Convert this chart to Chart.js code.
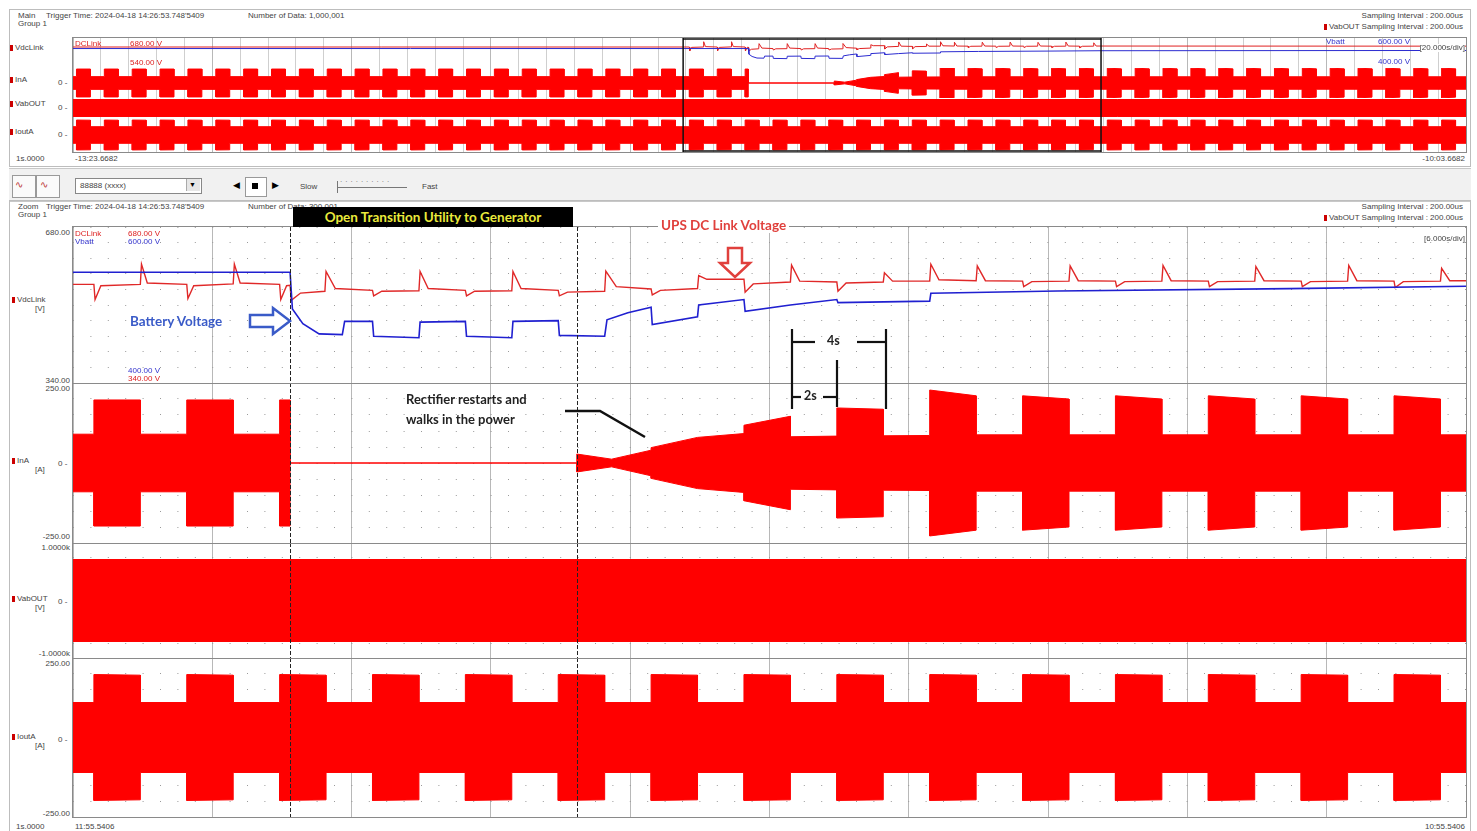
<!DOCTYPE html>
<html>
<head>
<meta charset="utf-8">
<script src="https://cdn.jsdelivr.net/npm/chart.js@4.4.1/dist/chart.umd.min.js"></script>
<style>
  body { margin: 0; background: #fff; width: 1477px; height: 831px; position: relative; overflow: hidden;
         font-family: "Liberation Sans", Arial, sans-serif; }
  canvas { position: absolute; }
  .t { position: absolute; font-size: 8px; color: #444; white-space: nowrap; line-height: 1; }
  .r { text-align: right; }
  .sq { display: inline-block; width: 3px; height: 6px; background: #c00; margin-right: 2px; vertical-align: -1px; }
  .frame { position: absolute; border: 1px solid #bdbdbd; box-sizing: border-box; }
  .box { position: absolute; border: 1px solid #8a8a8a; box-sizing: border-box; }
  .hl { position: absolute; height: 1px; background: #8a8a8a; }
  .note { position: absolute; font-family: Lato, "Open Sans", sans-serif; font-weight: bold; white-space: nowrap; line-height: 1; }
</style>
</head>
<body>

<!-- window frames -->
<div class="frame" style="left:9px;top:9px;width:1462px;height:158px"></div>
<div style="position:absolute;left:9px;top:168px;width:1462px;height:32px;background:#f1f1f1;border-top:1px solid #c8c8c8;border-bottom:1px solid #c8c8c8"></div>
<div class="frame" style="left:9px;top:200px;width:1462px;height:640px"></div>

<!-- overview header -->
<div class="t" style="left:18px;top:12px">Main<br>Group 1</div>
<div class="t" style="left:46px;top:12px">Trigger Time: 2024-04-18 14:26:53.748'5409</div>
<div class="t" style="left:248px;top:12px">Number of Data: 1,000,001</div>
<div class="t r" style="right:14px;top:12px">Sampling Interval : 200.00us</div>
<div class="t r" style="right:14px;top:23px"><span class="sq"></span>VabOUT Sampling Interval : 200.00us</div>

<div class="t" style="left:10px;top:44px"><span class="sq"></span>VdcLink</div>
<div class="t" style="left:10px;top:76px"><span class="sq"></span>InA</div>
<div class="t" style="left:10px;top:100px"><span class="sq"></span>VabOUT</div>
<div class="t" style="left:10px;top:128px"><span class="sq"></span>IoutA</div>
<div class="t" style="left:58px;top:79px">0 -</div>
<div class="t" style="left:58px;top:104px">0 -</div>
<div class="t" style="left:58px;top:131px">0 -</div>
<div class="t" style="left:16px;top:155px">1s.0000</div>
<div class="t" style="left:75px;top:155px">-13:23.6682</div>
<div class="t r" style="right:12px;top:155px">-10:03.6682</div>

<!-- toolbar -->
<div style="position:absolute;left:12px;top:175px;width:22px;height:21px;border:1px solid #999;background:#fafafa"></div>
<div style="position:absolute;left:36px;top:175px;width:22px;height:21px;border:1px solid #999;background:#fafafa"></div>
<div class="t" style="left:15px;top:180px;color:#b33;font-size:10px">&#8767;</div>
<div class="t" style="left:40px;top:180px;color:#b33;font-size:10px">&#8767;</div>
<div style="position:absolute;left:75px;top:178px;width:125px;height:14px;border:1px solid #888;background:#fff"></div>
<div class="t" style="left:80px;top:182px">88888 (xxxx)</div>
<div style="position:absolute;left:186px;top:179px;width:13px;height:12px;background:#e6e6e6;border-left:1px solid #aaa"></div>
<div class="t" style="left:189px;top:181px;font-size:7px;color:#000">&#9660;</div>
<div class="t" style="left:233px;top:181px;font-size:9px;color:#000">&#9664;</div>
<div style="position:absolute;left:245px;top:177px;width:20px;height:18px;border:1px solid #999;background:#fff"></div>
<div style="position:absolute;left:252px;top:183px;width:6px;height:6px;background:#000"></div>
<div class="t" style="left:272px;top:181px;font-size:9px;color:#000">&#9654;</div>
<div class="t" style="left:300px;top:183px">Slow</div>
<div style="position:absolute;left:337px;top:187px;width:70px;height:1px;background:#777"></div>
<div style="position:absolute;left:337px;top:181px;width:1px;height:12px;background:#777"></div>
<div class="t" style="left:340px;top:176px;letter-spacing:3px;color:#777">..........</div>
<div class="t" style="left:422px;top:183px">Fast</div>

<!-- zoom header -->
<div class="t" style="left:18px;top:203px">Zoom<br>Group 1</div>
<div class="t" style="left:46px;top:203px">Trigger Time: 2024-04-18 14:26:53.748'5409</div>
<div class="t" style="left:248px;top:203px">Number of Data: 300,001</div>
<div class="t r" style="right:14px;top:203px">Sampling Interval : 200.00us</div>
<div class="t r" style="right:14px;top:214px"><span class="sq"></span>VabOUT Sampling Interval : 200.00us</div>

<!-- zoom channel labels and scale ends -->
<div class="t" style="left:12px;top:296px"><span class="sq"></span>VdcLink</div>
<div class="t" style="left:35px;top:305px">[V]</div>
<div class="t" style="left:12px;top:457px"><span class="sq"></span>InA</div>
<div class="t" style="left:35px;top:466px">[A]</div>
<div class="t" style="left:12px;top:595px"><span class="sq"></span>VabOUT</div>
<div class="t" style="left:35px;top:604px">[V]</div>
<div class="t" style="left:12px;top:733px"><span class="sq"></span>IoutA</div>
<div class="t" style="left:35px;top:742px">[A]</div>
<div class="t r" style="right:1407px;top:229px">680.00</div>
<div class="t r" style="right:1407px;top:377px">340.00</div>
<div class="t r" style="right:1407px;top:385px">250.00</div>
<div class="t" style="left:58px;top:460px">0 -</div>
<div class="t r" style="right:1407px;top:533px">-250.00</div>
<div class="t r" style="right:1407px;top:544px">1.0000k</div>
<div class="t" style="left:58px;top:598px">0 -</div>
<div class="t r" style="right:1407px;top:650px">-1.0000k</div>
<div class="t r" style="right:1407px;top:660px">250.00</div>
<div class="t" style="left:58px;top:736px">0 -</div>
<div class="t r" style="right:1407px;top:810px">-250.00</div>
<div class="t" style="left:16px;top:823px">1s.0000</div>
<div class="t" style="left:75px;top:823px">11:55.5406</div>
<div class="t r" style="right:12px;top:823px">10:55.5406</div>

<!-- overview charts -->
<canvas id="ovDc" width="1393" height="30" style="left:73px;top:38px"></canvas>
<canvas id="ovIna" width="1393" height="30" style="left:73px;top:68px"></canvas>
<canvas id="ovVab" width="1393" height="20" style="left:73px;top:98px"></canvas>
<canvas id="ovIout" width="1393" height="34" style="left:73px;top:118px"></canvas>
<div class="box" style="left:72px;top:37px;width:1395px;height:116px"></div>
<div class="t" style="left:75px;top:40px;color:#d22">DCLink</div>
<div class="t" style="left:130px;top:40px;color:#d22">680.00 V</div>
<div class="t" style="left:130px;top:59px;color:#d22">540.00 V</div>
<div class="t" style="left:1326px;top:38px;color:#33c">Vbatt</div>
<div class="t" style="left:1378px;top:38px;color:#33c">600.00 V</div>
<div class="t" style="left:1378px;top:58px;color:#33c">400.00 V</div>
<div class="t r" style="right:12px;top:44px;background:#fff">[20.000s/div]</div>

<!-- zoom charts -->
<canvas id="zDc" width="1393" height="156" style="left:73px;top:227px"></canvas>
<canvas id="zIna" width="1393" height="160" style="left:73px;top:383px"></canvas>
<canvas id="zVab" width="1393" height="115" style="left:73px;top:543px"></canvas>
<canvas id="zIout" width="1393" height="159" style="left:73px;top:658px"></canvas>
<div class="box" style="left:72px;top:226px;width:1395px;height:592px"></div>
<div class="hl" style="left:72px;top:383px;width:1395px"></div>
<div class="hl" style="left:72px;top:543px;width:1395px"></div>
<div class="hl" style="left:72px;top:658px;width:1395px"></div>
<div class="t" style="left:75px;top:230px;color:#d22">DCLink</div>
<div class="t" style="left:75px;top:238px;color:#33c">Vbatt</div>
<div class="t" style="left:128px;top:230px;color:#d22">680.00 V</div>
<div class="t" style="left:128px;top:238px;color:#33c">600.00 V</div>
<div class="t" style="left:128px;top:367px;color:#33c">400.00 V</div>
<div class="t" style="left:128px;top:375px;color:#d22">340.00 V</div>
<div class="t r" style="right:12px;top:235px">[6.000s/div]</div>

<!-- annotations -->
<div class="note" style="left:293px;top:207px;width:280px;height:20px;background:#000;color:#eaea3c;font-size:13.5px;line-height:20px;text-align:center">Open Transition Utility to Generator</div>
<div class="note" style="left:658px;top:219px;padding:0 3px;background:#fff;color:#e0403c;font-size:13.5px">UPS DC Link Voltage</div>
<div class="note" style="left:130px;top:315px;color:#3a5bc8;font-size:13.5px">Battery Voltage</div>
<div class="note" style="left:406px;top:389px;color:#222;font-size:13px;line-height:20px">Rectifier restarts and<br>walks in the power</div>
<div class="note" style="left:827px;top:335px;color:#222;font-size:12.5px">4s</div>
<div class="note" style="left:804px;top:390px;color:#222;font-size:12.5px">2s</div>
<svg style="position:absolute;left:0;top:0" width="1477" height="831">
  <path d="M728,248 H742 V263 H750 L735,277 L720,263 H728 Z" fill="#fff" stroke="#e0403c" stroke-width="2.5" stroke-linejoin="miter"/>
  <path d="M250,315 H273 V308 L290,321 L273,334 V327 H250 Z" fill="#fff" stroke="#3a5bc8" stroke-width="2.5"/>
  <polyline points="565,411 600,411 645,437" fill="none" stroke="#111" stroke-width="2.5"/>
  <g stroke="#111" stroke-width="2.2" fill="none">
    <line x1="792" y1="329" x2="792" y2="409"/>
    <line x1="886" y1="329" x2="886" y2="409"/>
    <line x1="792" y1="342" x2="815" y2="342"/>
    <line x1="857" y1="342" x2="886" y2="342"/>
    <line x1="837" y1="360" x2="837" y2="407"/>
    <line x1="792" y1="397" x2="801" y2="397"/>
    <line x1="823" y1="397" x2="837" y2="397"/>
  </g>
</svg>

<script>
// time [s] from the start of the recording; the overview spans 0-200 s
const overviewRange = [0, 200];
const zoomRange = [87.6, 147.6];
const cursorTimes = [96.95, 109.3];

// start of every 2 s load pulse on the UPS output
const pulseStarts = [0.5, 4.5, 8.5, 12.5, 16.5, 20.5, 24.5, 28.5, 32.5, 36.5,
  40.5, 44.5, 48.5, 52.5, 56.5, 60.5, 64.5, 68.5, 72.5, 76.5,
  80.5, 84.5, 88.5, 92.5, 96.5, 100.5, 104.5, 108.5, 112.5, 116.5,
  120.5, 124.5, 128.5, 132.5, 136.5, 140.5, 144.5, 148.5, 152.5, 156.5,
  160.5, 164.5, 168.5, 172.5, 176.5, 180.5, 184.5, 188.5, 192.5, 196.5];
const pulseLength = 2;

// peak current [A]: at pulse start, at pulse end, between pulses
const inaBefore = [197, 197, 90];
const inaAfter = [210, 200, 88];
const ioutLevels = [198, 196, 110];
const vabPeak = 713; // V

// InA peak [A] across the open transition and the rectifier walk-in
const inaTransfer = [
  [96.5, 90], [96.5, 197], [96.95, 197], [96.95, 0], [109.3, 0], [109.3, 28], [110.8, 12],
  [112.5, 40], [112.5, 48], [114.5, 80], [116.5, 92], [116.5, 118], [118.5, 146],
  [118.5, 82], [120.5, 84], [120.5, 172], [122.5, 168], [122.5, 85], [124.5, 86],
  [124.5, 228], [126.5, 210], [126.5, 88], [128.5, 88]
];

// UPS DC link voltage [V]
const dcLinkV = [
  [0, 555], [88.5, 555], [88.55, 522], [88.8, 552], [90.5, 555], [90.55, 599], [90.8, 558],
  [92.5, 555], [92.55, 524], [92.8, 552], [94.5, 556], [94.55, 599], [94.8, 558],
  [96.5, 555], [96.55, 522], [96.8, 552], [96.95, 553], [97.0, 520], [97.4, 536], [98.45, 540],
  [98.5, 583], [98.9, 546], [100.5, 542], [100.55, 530], [100.9, 540], [102.5, 541],
  [102.55, 583], [102.9, 546], [104.5, 542], [104.55, 530], [104.9, 540], [106.5, 541],
  [106.55, 583], [106.9, 546], [108.5, 542], [108.55, 530], [108.9, 538], [110.5, 540],
  [110.55, 584], [111.0, 550], [112.5, 545], [112.55, 532], [112.9, 542], [114.5, 546],
  [114.55, 574], [114.9, 566], [116.5, 566], [116.55, 538], [116.9, 556], [118.5, 560],
  [118.55, 597], [118.9, 562], [120.5, 560], [120.55, 540], [120.9, 558], [122.5, 560],
  [122.55, 580], [122.9, 562], [124.5, 562], [124.55, 599], [124.9, 565], [126.5, 563],
  [126.55, 595], [126.9, 563], [128.5, 562], [128.55, 550], [128.9, 561], [130.5, 562],
  [130.55, 595], [130.9, 563], [132.5, 562], [132.55, 550], [132.9, 561], [134.5, 562],
  [134.55, 596], [134.9, 563], [136.5, 562], [136.55, 550], [136.9, 561], [138.5, 562],
  [138.55, 594], [138.9, 563], [140.5, 562], [140.55, 550], [140.9, 561], [142.5, 562],
  [142.55, 596], [142.9, 563], [144.5, 562], [144.55, 548], [144.9, 561], [146.5, 562],
  [146.55, 590], [146.9, 563], [200, 562]
];

// battery voltage [V]
const batteryV = [
  [0, 542], [96.95, 542], [97.05, 495], [97.5, 476], [98.2, 463], [99.2, 462], [99.3, 479],
  [100.5, 479], [100.55, 460], [102.5, 458], [102.55, 478], [104.5, 479], [104.55, 460],
  [106.5, 458], [106.55, 479], [108.5, 480], [108.55, 461], [110.5, 460], [110.6, 481],
  [111.5, 490], [112.5, 497], [112.55, 475], [114.5, 485], [114.55, 500], [116.5, 507],
  [116.55, 492], [118.5, 500], [120.5, 507], [120.55, 503], [124.5, 505], [124.55, 515],
  [130, 518], [140, 521], [147.6, 524], [200, 526]
];

function pulseEnvelope(levels, from, to) {
  const pts = [];
  pulseStarts.filter(s => s >= from && s < to).forEach(s => {
    pts.push([s, levels[2]], [s, levels[0]], [s + pulseLength, levels[1]], [s + pulseLength, levels[2]]);
  });
  return pts;
}

const inaEnv = [[0, inaBefore[2]], ...pulseEnvelope(inaBefore, 0, 96.5), ...inaTransfer,
  ...pulseEnvelope(inaAfter, 128.5, 200), [200, inaAfter[2]]];
const ioutEnv = [[0, ioutLevels[2]], ...pulseEnvelope(ioutLevels, 0, 200), [200, ioutLevels[2]]];
const vabEnv = [[0, vabPeak], [200, vabPeak]];

const toXY = arr => arr.map(([x, y]) => ({ x, y }));
function band(env) {
  return [
    { data: toXY(env), borderColor: '#ff0000', borderWidth: 1, pointRadius: 0, fill: false },
    { data: env.map(([x, y]) => ({ x, y: -y })), borderColor: '#ff0000', borderWidth: 1,
      pointRadius: 0, backgroundColor: '#ff0000', fill: '-1' }
  ];
}

// dashed cursors in the zoom view, zoom box in the overview
const markers = {
  id: 'markers',
  afterDatasetsDraw(chart, args, opts) {
    const { ctx, chartArea: a, scales: { x } } = chart;
    ctx.save();
    if (opts.cursors) {
      ctx.strokeStyle = '#222';
      ctx.lineWidth = 1;
      ctx.setLineDash([4, 2]);
      cursorTimes.forEach(t => {
        const px = Math.round(x.getPixelForValue(t)) + 0.5;
        ctx.beginPath(); ctx.moveTo(px, a.top); ctx.lineTo(px, a.bottom); ctx.stroke();
      });
    }
    if (opts.box) {
      const x1 = x.getPixelForValue(zoomRange[0]), x2 = x.getPixelForValue(zoomRange[1]);
      ctx.strokeStyle = '#111';
      ctx.lineWidth = 1.5;
      ctx.beginPath();
      ctx.moveTo(x1, a.top); ctx.lineTo(x1, a.bottom);
      ctx.moveTo(x2, a.top); ctx.lineTo(x2, a.bottom);
      if (opts.box === 'top') { ctx.moveTo(x1, a.top + 1); ctx.lineTo(x2, a.top + 1); }
      if (opts.box === 'bottom') { ctx.moveTo(x1, a.bottom - 1); ctx.lineTo(x2, a.bottom - 1); }
      ctx.stroke();
    }
    ctx.restore();
  }
};

function xAxis(range, step, majorEvery, dotted) {
  return {
    type: 'linear', min: range[0], max: range[1],
    afterBuildTicks: ax => {
      const ticks = [];
      for (let v = range[0]; v <= range[1] + 1e-6; v += step) ticks.push({ value: v });
      ax.ticks = ticks;
    },
    ticks: { display: false },
    grid: {
      drawTicks: false,
      color: ctx => {
        const i = ctx.index;
        if (majorEvery && i % majorEvery === 0) return '#b8b8b8';
        return dotted ? '#d8d8d8' : '#cfcfcf';
      }
    },
    border: { display: false }
  };
}

function yAxis(min, max, divs, dotted, extra) {
  return Object.assign({
    min, max,
    afterBuildTicks: ax => {
      const ticks = [];
      for (let i = 0; i <= divs; i++) ticks.push({ value: min + (max - min) * i / divs });
      ax.ticks = ticks;
    },
    ticks: { display: false },
    grid: { drawTicks: false, display: dotted, color: '#9a9a9a' },
    border: { display: false, dash: [1, 16.4] }
  }, extra || {});
}

function draw(id, datasets, scales, markerOpts) {
  new Chart(document.getElementById(id), {
    type: 'line',
    data: { datasets },
    options: {
      responsive: false, animation: false, events: [],
      layout: { padding: 0 },
      elements: { line: { tension: 0 } },
      plugins: { legend: { display: false }, tooltip: { enabled: false }, markers: markerOpts },
      scales
    },
    plugins: [markers]
  });
}

// overview rows (0-200 s)
const ovX = () => xAxis(overviewRange, 4, 5, false);
draw('ovDc', [
  { data: toXY(batteryV), borderColor: '#2b2bd0', borderWidth: 1, pointRadius: 0 },
  { data: toXY(dcLinkV), borderColor: '#e02020', borderWidth: 1, pointRadius: 0 }
], { x: ovX(), y: yAxis(380, 630, 2, false) }, { box: 'top' });
draw('ovIna', band(inaEnv), { x: ovX(), y: yAxis(-212, 212, 2, false) }, { box: true });
draw('ovVab', band(vabEnv), { x: ovX(), y: yAxis(-840, 840, 2, false) }, { box: true });
draw('ovIout', band(ioutEnv), { x: ovX(), y: yAxis(-225, 225, 2, false) }, { box: 'bottom' });

// zoom panels (6 s/div)
const zX = () => xAxis(zoomRange, 6, 1, false);
draw('zDc', [
  { data: toXY(batteryV), borderColor: '#2020d0', borderWidth: 1.6, pointRadius: 0, yAxisID: 'y2' },
  { data: toXY(dcLinkV), borderColor: '#e02828', borderWidth: 1.4, pointRadius: 0, yAxisID: 'y' }
], { x: zX(), y: yAxis(340, 680, 10, true), y2: yAxis(400, 600, 10, false, { display: false }) }, { cursors: true });
draw('zIna', band(inaEnv), { x: zX(), y: yAxis(-250, 250, 10, true) }, { cursors: true });
draw('zVab', band(vabEnv), { x: zX(), y: yAxis(-1000, 1000, 8, true) }, { cursors: true });
draw('zIout', band(ioutEnv), { x: zX(), y: yAxis(-250, 250, 10, true) }, { cursors: true });
</script>
</body>
</html>
